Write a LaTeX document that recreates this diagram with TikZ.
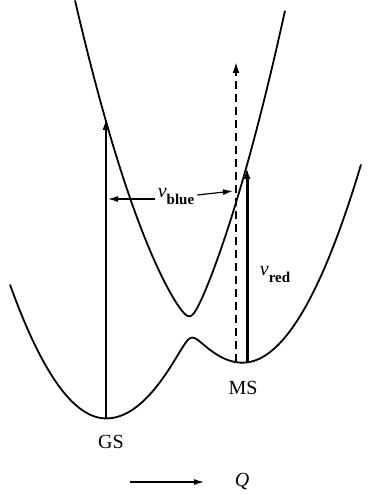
\documentclass[tikz,border=0pt]{standalone}
\usepackage{fontspec}
\setmainfont{Liberation Serif}
\usetikzlibrary{arrows.meta}
\begin{document}
\begin{tikzpicture}[x=1pt,y=-1pt,
  declare function={
    vgs(\x)=((\x<106)*1.45+(\x>=106)*1.27)*((\x-106)/10)^2;
    vms(\x)=56+((\x<243)*1.28+(\x>=243)*1.42)*((\x-243)/10)^2;
    vlo(\x)=(vgs(\x)+vms(\x))/2-11*sqrt(((vgs(\x)-vms(\x))/22)^2+1);
    vhi(\x)=(vgs(\x)+vms(\x))/2+11*sqrt(((vgs(\x)-vms(\x))/22)^2+1);
  },
  curve/.style={line width=1.8pt,line join=round},
  vline/.style={line width=1.4pt,-{Latex[length=11pt,width=7pt]}},
  lbl/.style={font=\fontsize{20}{24}\selectfont,inner sep=0pt},
  subl/.style={font=\fontsize{15}{17}\selectfont\bfseries}]
\useasboundingbox (0,0) rectangle (369,494);
% upper adiabatic curve
\draw[curve] plot[domain=75:285,samples=300,variable=\x] ({\x},{418-vhi(\x)});
% lower adiabatic curve
\draw[curve] plot[domain=10:361,samples=350,variable=\x] ({\x},{418-vlo(\x)});
% vertical transitions
\coordinate (gs) at (106,418);
\coordinate (gsup) at (106,119);
\coordinate (msa) at (236,362);
\coordinate (msaup) at (236,62);
\coordinate (msb) at (247,362);
\coordinate (msbup) at (247,168);
\draw[vline] (gs) -- (gsup);
\draw[vline,line width=1.8pt,dash pattern=on 8pt off 5pt] (msa) -- (msaup);
\draw[vline,line width=3pt] (msb) -- (msbup);
% labels
\node[lbl] (nublue) at (176,197) {\itshape ν\raisebox{-7pt}{\upshape\bfseries\fontsize{15}{17}\selectfont blue}};
\coordinate (bl) at (108,199);
\coordinate (br) at (233,191);
\draw[line width=1.2pt,-{Latex[length=10pt,width=6pt]}] (nublue.west) ++(-3,2) -- (bl);
\draw[line width=1.2pt,-{Latex[length=10pt,width=6pt]}] (nublue.east) ++(3,-2) -- (br);
\node[lbl] (nured) at (275,274) {\itshape ν\raisebox{-7pt}{\upshape\bfseries\fontsize{15}{17}\selectfont red}};
\node[lbl] (gslbl) at (111,442) {GS};
\node[lbl] (mslbl) at (243,388) {MS};
\coordinate (qa) at (130,482);
\coordinate (qb) at (204,482);
\draw[line width=1.2pt,-{Latex[length=10pt,width=6pt]}] (qa) -- (qb);
\node[lbl] (q) at (242,481) {\itshape Q};
\end{tikzpicture}
\end{document}
